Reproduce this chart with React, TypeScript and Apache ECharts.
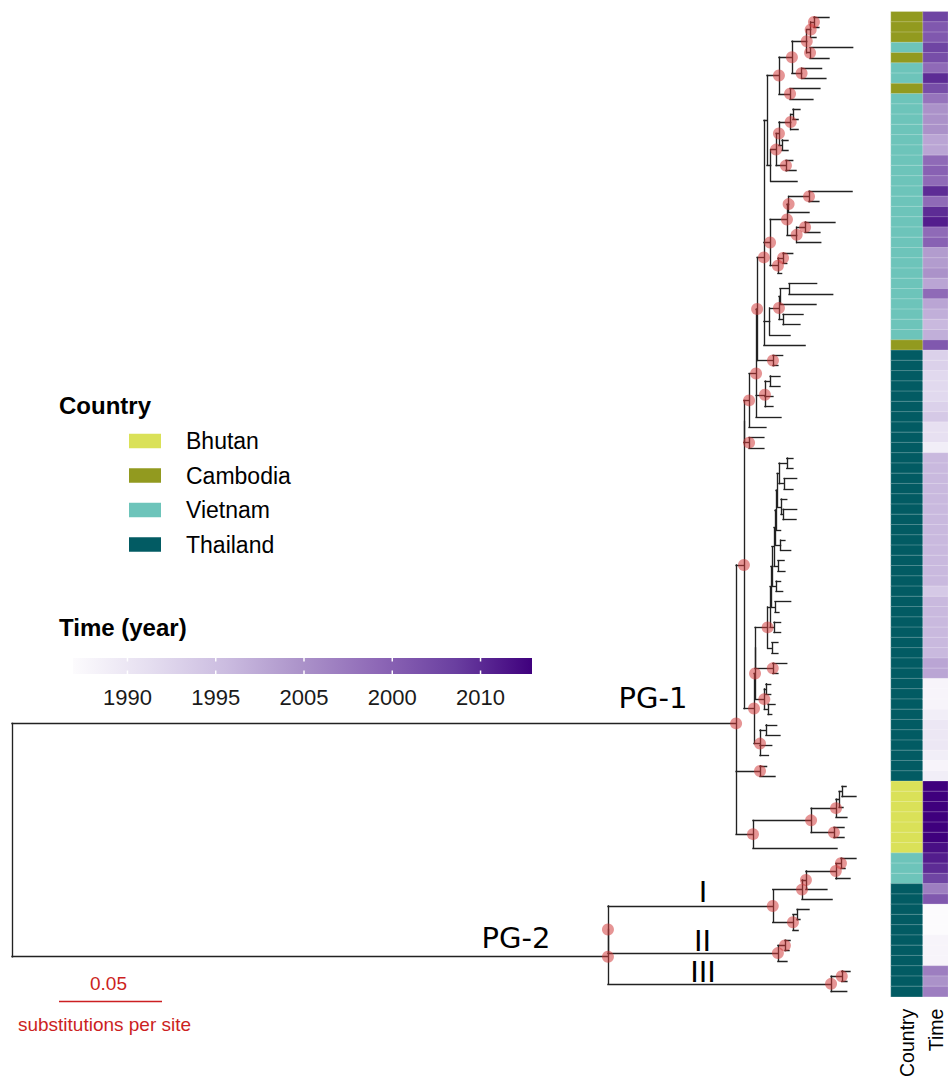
import React, { useEffect, useRef } from "react";
import * as echarts from "echarts";

// ---------------- data ----------------
const COUNTRIES = ["Bhutan", "Cambodia", "Vietnam", "Thailand"];
const COUNTRY_COLORS = ["#dae158", "#929a1f", "#6dc4ba", "#025b63"];

// heatmap rows, top to bottom (same order as tree tips)
const ROW_COUNTRY = [
  "Cambodia", "Cambodia", "Cambodia", "Vietnam", "Cambodia", "Vietnam", "Vietnam", "Cambodia",
  "Vietnam", "Vietnam", "Vietnam", "Vietnam", "Vietnam", "Vietnam", "Vietnam", "Vietnam",
  "Vietnam", "Vietnam", "Vietnam", "Vietnam", "Vietnam", "Vietnam", "Vietnam", "Vietnam",
  "Vietnam", "Vietnam", "Vietnam", "Vietnam", "Vietnam", "Vietnam", "Vietnam", "Vietnam",
  "Cambodia",
  "Thailand", "Thailand", "Thailand", "Thailand", "Thailand", "Thailand", "Thailand", "Thailand",
  "Thailand", "Thailand", "Thailand", "Thailand", "Thailand", "Thailand", "Thailand", "Thailand",
  "Thailand", "Thailand", "Thailand", "Thailand", "Thailand", "Thailand", "Thailand", "Thailand",
  "Thailand", "Thailand", "Thailand", "Thailand", "Thailand", "Thailand", "Thailand", "Thailand",
  "Thailand", "Thailand", "Thailand", "Thailand", "Thailand", "Thailand", "Thailand", "Thailand",
  "Thailand", "Thailand",
  "Bhutan", "Bhutan", "Bhutan", "Bhutan", "Bhutan", "Bhutan", "Bhutan",
  "Vietnam", "Vietnam", "Vietnam",
  "Thailand", "Thailand", "Thailand", "Thailand", "Thailand", "Thailand", "Thailand", "Thailand",
  "Thailand", "Thailand", "Thailand",
];

const ROW_YEAR = [
  2008, 2006, 2006, 2008, 2007, 2004, 2010, 2007,
  2003, 2000, 2000, 2000, 1998, 1998, 2004, 2005,
  2004, 2010, 2004, 2010, 2011, 2004, 2005, 1999,
  1999, 2000, 1998, 2004, 1998, 1997, 1996, 1997,
  2006,
  1993, 1993, 1992, 1992, 1992, 1993, 1994, 1991,
  1991, 1989, 1996, 1996, 1996, 1996, 1996, 1996,
  1996, 1996, 1996, 1996, 1996, 1996, 1996, 1994,
  1996, 1996, 1996, 1996, 1996, 1996, 1998, 1998,
  1988, 1988, 1988, 1989, 1990, 1990, 1990, 1989,
  1988, 1989,
  2013, 2013, 2013, 2013, 2013, 2013, 2012,
  2011, 2010, 2008,
  2002, 2006, 1987, 1987, 1987, 1988, 1988, 1988,
  2002, 2000, 2002,
];

// internal nodes: [name, parent, distance from root (substitutions/site), supported]
const NODES: [string, string | null, number, number][] = [
  ["root", null, 0, 0],
  ["PG1", "root", 0.3515, 1],
  ["PG2", "root", 0.2893, 1],
  ["P2a", "PG2", 0.2893, 1],
  ["I", "P2a", 0.3693, 1],
  ["Iup", "I", 0.3835, 1],
  ["IupA", "Iup", 0.3854, 1],
  ["Iup1", "IupA", 0.3999, 1],
  ["Iup1a", "Iup1", 0.4024, 1],
  ["Idn", "I", 0.3791, 1],
  ["Idn1", "Idn", 0.3811, 0],
  ["II", "P2a", 0.3718, 1],
  ["II1", "II", 0.3752, 1],
  ["III", "PG2", 0.3976, 1],
  ["III1", "III", 0.4028, 1],
  ["S", "PG1", 0.3553, 1],
  ["Q", "PG1", 0.3631, 1],
  ["PGb", "PG1", 0.3597, 1],
  ["B", "PGb", 0.3879, 1],
  ["B1", "B", 0.4, 1],
  ["B1b", "B1", 0.4015, 0],
  ["B1a", "B1b", 0.4029, 0],
  ["B2", "B", 0.399, 1],
  ["S1", "S", 0.3553, 0],
  ["Z", "S1", 0.3578, 1],
  ["Z2", "S1", 0.3578, 1],
  ["V", "Z", 0.3612, 1],
  ["V2", "V", 0.3617, 1],
  ["N3435", "V2", 0.3694, 1],
  ["N3639", "V", 0.3655, 1],
  ["N3637", "N3639", 0.368, 0],
  ["TOP", "V2", 0.365, 1],
  ["T767", "TOP", 0.3665, 0],
  ["N1_9", "T767", 0.3723, 1],
  ["N1_7", "N1_9", 0.3786, 1],
  ["N1_5", "N1_7", 0.3858, 1],
  ["N123", "N1_5", 0.3877, 1],
  ["N12", "N123", 0.3893, 1],
  ["N45", "N1_5", 0.3874, 1],
  ["N67", "N1_7", 0.3833, 1],
  ["N89", "N1_9", 0.3777, 1],
  ["N10_17", "T767", 0.3683, 0],
  ["N10_16", "N10_17", 0.3709, 1],
  ["N10_14", "N10_16", 0.3723, 1],
  ["N10_12", "N10_14", 0.378, 1],
  ["N1011", "N10_12", 0.3791, 0],
  ["N1314", "N10_14", 0.3738, 0],
  ["N1516", "N10_16", 0.3757, 1],
  ["N18_26", "TOP", 0.368, 1],
  ["N18_23", "N18_26", 0.3762, 1],
  ["N18_20", "N18_23", 0.377, 1],
  ["N1819", "N18_20", 0.3869, 1],
  ["N21_23", "N18_23", 0.3809, 1],
  ["N2122", "N21_23", 0.385, 1],
  ["N24_26", "N18_26", 0.3718, 1],
  ["N2425", "N24_26", 0.3743, 1],
  ["N27_32", "TOP", 0.3678, 0],
  ["N27_31", "N27_32", 0.3723, 1],
  ["N27_29", "N27_31", 0.3728, 0],
  ["N2728", "N27_29", 0.3772, 0],
  ["N3031", "N27_31", 0.3743, 0],
  ["Mp", "S", 0.3602, 1],
  ["M", "Mp", 0.3607, 1],
  ["Ma", "M", 0.3607, 0],
  ["L", "Ma", 0.3668, 1],
  ["C8", "L", 0.368, 0],
  ["C7", "C8", 0.3684, 0],
  ["C6", "C7", 0.3689, 0],
  ["C5", "C6", 0.3699, 0],
  ["C4", "C5", 0.3704, 0],
  ["C3", "C4", 0.3709, 0],
  ["C2", "C3", 0.3714, 0],
  ["C1", "C2", 0.3723, 0],
  ["N4445", "C1", 0.3761, 0],
  ["N4647", "C1", 0.3748, 0],
  ["N4850", "C2", 0.3733, 0],
  ["N4950", "N4850", 0.3743, 0],
  ["N5253", "C4", 0.3731, 0],
  ["N5455", "C5", 0.3718, 0],
  ["N5657", "C6", 0.3709, 0],
  ["N5859", "C7", 0.3704, 0],
  ["N6061", "C8", 0.3699, 0],
  ["N6263", "L", 0.3689, 0],
  ["N6465", "Ma", 0.3693, 1],
  ["K", "M", 0.3652, 1],
  ["K1", "K", 0.366, 0],
  ["K2", "K", 0.367, 0],
  ["P", "Mp", 0.3631, 1],
  ["P1", "P", 0.366, 0],
];

// tips in row order: [parent node, distance from root]
const TIPS: [string, number][] = [
  ["N12", 0.3966], ["N12", 0.3917], ["N123", 0.3903], ["N45", 0.4081], ["N45", 0.3966],
  ["N67", 0.393], ["N67", 0.3951], ["N89", 0.3922], ["N89", 0.3888], ["N1011", 0.3825],
  ["N1011", 0.3816], ["N10_12", 0.3816], ["N1314", 0.3767], ["N1314", 0.3767], ["N1516", 0.379],
  ["N1516", 0.3806], ["N10_17", 0.3811], ["N1819", 0.4078], ["N1819", 0.3917], ["N18_20", 0.3869],
  ["N2122", 0.3995], ["N2122", 0.3922], ["N21_23", 0.3926], ["N2425", 0.379], ["N2425", 0.3761],
  ["N24_26", 0.3736], ["N2728", 0.3906], ["N2728", 0.3984], ["N27_29", 0.3903], ["N3031", 0.384],
  ["N3031", 0.3825], ["N27_32", 0.3777], ["TOP", 0.385],
  ["N3435", 0.3741], ["N3435", 0.3718], ["N3637", 0.3728], ["N3637", 0.3728], ["N3639", 0.3694],
  ["N3639", 0.3694], ["V", 0.3733], ["Z", 0.366], ["Z2", 0.365], ["Z2", 0.365],
  ["N4445", 0.3791], ["N4445", 0.3791], ["N4647", 0.3809], ["N4647", 0.3791], ["N4850", 0.3761],
  ["N4950", 0.3809], ["N4950", 0.3806], ["C3", 0.3731], ["N5253", 0.3752], ["N5253", 0.378],
  ["N5455", 0.3748], ["N5455", 0.3752], ["N5657", 0.3731], ["N5657", 0.3741], ["N5859", 0.378],
  ["N5859", 0.3723], ["N6061", 0.3731], ["N6061", 0.3731], ["N6263", 0.3718], ["N6263", 0.3718],
  ["N6465", 0.3761], ["N6465", 0.3718], ["K1", 0.3683], ["K1", 0.3683], ["K2", 0.3704],
  ["K2", 0.3688], ["P1", 0.3712], ["P1", 0.3728], ["P", 0.3688], ["P", 0.3672],
  ["Q", 0.3663], ["Q", 0.3704],
  ["B1a", 0.4049], ["B1a", 0.4097], ["B1b", 0.4034], ["B1", 0.4053], ["B2", 0.4039],
  ["B2", 0.4039], ["PGb", 0.4005],
  ["Iup1a", 0.4097], ["Iup1a", 0.4044], ["Iup1", 0.4068], ["IupA", 0.3956], ["Iup", 0.3981],
  ["Idn1", 0.3869], ["Idn1", 0.3825], ["Idn", 0.3816], ["II1", 0.3777], ["II1", 0.3772],
  ["II", 0.3762], ["III1", 0.4068], ["III1", 0.4053], ["III", 0.4052],
];

const CLADE_LABELS = ["PG-1", "PG-2", "I", "II", "III"];
const TIME_MIN = 1987;
const TIME_MAX = 2013;
const TIME_COLORS = ["#fcfbfd", "#e5def0", "#cbbce0", "#ab92c9", "#8d67b6", "#6a3fa0", "#3f007d"];
const TIME_TICK_YEARS = [1990, 1995, 2000, 2005, 2010];
const TIME_TICK_LABELS = ["1990", "1995", "2005", "2000", "2010"];
const SCALE_BAR = 0.05;

// ---------------- layout ----------------
const FONT = '"Liberation Sans", Arial, sans-serif';
const GRID_TOP = 11.7;
const GRID_H = 985;
const TREE_LEFT = 12;
const TREE_W = 927;
const X_MAX = 0.45;
const RED = "#cc1f22";

export default function App() {
  const ref = useRef<HTMLDivElement>(null);

  useEffect(() => {
    if (!ref.current) return;
    const chart = echarts.init(ref.current, null, { renderer: "svg" });

    // build tree geometry
    const depth: Record<string, number> = {};
    const parentOf: Record<string, string | null> = {};
    const kids: Record<string, string[]> = {};
    const yPos: Record<string, number> = {};
    NODES.forEach(([n, p, d]) => {
      depth[n] = d;
      parentOf[n] = p;
      kids[n] = kids[n] || [];
      if (p) (kids[p] = kids[p] || []).push(n);
    });
    TIPS.forEach(([p, d], i) => {
      const n = "tip" + i;
      depth[n] = d;
      parentOf[n] = p;
      yPos[n] = i + 0.5;
      (kids[p] = kids[p] || []).push(n);
    });
    const getY = (n: string): number => {
      if (yPos[n] !== undefined) return yPos[n];
      const ys = kids[n].map(getY);
      yPos[n] = ys.reduce((a, b) => a + b, 0) / ys.length;
      return yPos[n];
    };
    getY("root");

    const segs: number[][][] = [];
    Object.keys(depth).forEach((n) => {
      const p = parentOf[n];
      if (p) segs.push([[depth[p], yPos[n]], [depth[n], yPos[n]]]);
      const k = kids[n];
      if (k && k.length) {
        const ys = k.map((c) => yPos[c]);
        segs.push([[depth[n], Math.min(...ys)], [depth[n], Math.max(...ys)]]);
      }
    });
    const circles = NODES.filter((n) => n[3] === 1).map((n) => [depth[n[0]], yPos[n[0]]]);

    const rowNames = ROW_COUNTRY.map((_, i) => "r" + (i + 1));

    // legend helpers
    const legendRows = [441, 475.5, 510, 544.5];
    const BAR_X = 73, BAR_Y = 658, BAR_W = 459, BAR_H = 16;
    const tickX = (yr: number) => BAR_X + ((yr - TIME_MIN) / (TIME_MAX - TIME_MIN)) * BAR_W;
    const scaleLen = (SCALE_BAR / X_MAX) * TREE_W;

    const graphic: any[] = [];
    // clade labels
    const cladePos = [
      [653, 698],
      [516, 938],
      [703, 891.5],
      [702.5, 940.5],
      [703, 971.5],
    ];
    CLADE_LABELS.forEach((t, i) => {
      graphic.push({
        type: "text",
        x: cladePos[i][0],
        y: cladePos[i][1],
        style: { text: t, fill: "#000", font: '29px "DejaVu Sans", sans-serif', align: "center", verticalAlign: "middle", lineHeight: 29 },
      });
    });
    // country legend
    graphic.push({
      type: "text", x: 59, y: 405,
      style: { text: "Country", fill: "#000", font: `bold 24px ${FONT}`, align: "left", verticalAlign: "middle" },
    });
    COUNTRIES.forEach((c, i) => {
      graphic.push({
        type: "rect",
        shape: { x: 129, y: legendRows[i] - 7.25, width: 32, height: 14.5 },
        style: { fill: COUNTRY_COLORS[i] },
      });
      graphic.push({
        type: "text", x: 186, y: legendRows[i],
        style: { text: c, fill: "#000", font: `23px ${FONT}`, align: "left", verticalAlign: "middle" },
      });
    });
    // time legend
    graphic.push({
      type: "text", x: 59, y: 627,
      style: { text: "Time (year)", fill: "#000", font: `bold 24px ${FONT}`, align: "left", verticalAlign: "middle" },
    });
    graphic.push({
      type: "rect",
      shape: { x: BAR_X, y: BAR_Y, width: BAR_W, height: BAR_H },
      style: {
        fill: new echarts.graphic.LinearGradient(
          0, 0, 1, 0,
          TIME_COLORS.map((c, i) => ({ offset: i / (TIME_COLORS.length - 1), color: c }))
        ),
      },
    });
    TIME_TICK_YEARS.forEach((yr, i) => {
      const x = tickX(yr) + 1.5;
      graphic.push({ type: "line", shape: { x1: x, y1: BAR_Y, x2: x, y2: BAR_Y + 3.5 }, style: { stroke: "#fff", lineWidth: 1.5 } });
      graphic.push({ type: "line", shape: { x1: x, y1: BAR_Y + BAR_H - 3.5, x2: x, y2: BAR_Y + BAR_H }, style: { stroke: "#fff", lineWidth: 1.5 } });
      graphic.push({
        type: "text", x, y: 697,
        style: { text: TIME_TICK_LABELS[i], fill: "#1a1a1a", font: `22px ${FONT}`, align: "center", verticalAlign: "middle" },
      });
    });
    // scale bar
    graphic.push({
      type: "text", x: 59 + scaleLen / 2 - 2, y: 983.5,
      style: { text: String(SCALE_BAR), fill: RED, font: `19px ${FONT}`, align: "center", verticalAlign: "middle" },
    });
    graphic.push({
      type: "rect",
      shape: { x: 59, y: 1000.8, width: scaleLen, height: 1.4 },
      style: { fill: RED },
    });
    graphic.push({
      type: "text", x: 104.5, y: 1024,
      style: { text: "substitutions per site", fill: RED, font: `19px ${FONT}`, align: "center", verticalAlign: "middle" },
    });

    const catAxisLabel = { rotate: 90, margin: 12, fontSize: 19.5, color: "#000", fontFamily: FONT };

    chart.setOption({
      animation: false,
      grid: [
        { left: TREE_LEFT, top: GRID_TOP, width: TREE_W, height: GRID_H },
        { left: 891, top: GRID_TOP, width: 32, height: GRID_H },
        { left: 923, top: GRID_TOP, width: 25, height: GRID_H },
      ],
      xAxis: [
        { gridIndex: 0, type: "value", min: 0, max: X_MAX, show: false },
        {
          gridIndex: 1, type: "category", data: ["Country"],
          axisLine: { show: false }, axisTick: { show: false }, splitLine: { show: false },
          axisLabel: catAxisLabel,
        },
        {
          gridIndex: 2, type: "category", data: ["Time"],
          axisLine: { show: false }, axisTick: { show: false }, splitLine: { show: false },
          axisLabel: catAxisLabel,
        },
      ],
      yAxis: [
        { gridIndex: 0, type: "value", min: 0, max: ROW_COUNTRY.length, inverse: true, show: false },
        { gridIndex: 1, type: "category", data: rowNames, inverse: true, show: false },
        { gridIndex: 2, type: "category", data: rowNames, inverse: true, show: false },
      ],
      visualMap: [
        {
          type: "piecewise", show: false, seriesIndex: 2, dimension: 2,
          pieces: COUNTRIES.map((c, i) => ({ value: i, label: c, color: COUNTRY_COLORS[i] })),
        },
        {
          type: "continuous", show: false, seriesIndex: 3, dimension: 2,
          min: TIME_MIN, max: TIME_MAX, inRange: { color: TIME_COLORS },
        },
      ],
      series: [
        {
          type: "lines", coordinateSystem: "cartesian2d", xAxisIndex: 0, yAxisIndex: 0,
          data: segs.map((c) => ({ coords: c })),
          lineStyle: { color: "#222", width: 1.35, opacity: 1, cap: "square" },
          silent: true, z: 2,
        },
        {
          type: "scatter", xAxisIndex: 0, yAxisIndex: 0, data: circles,
          symbol: "circle", symbolSize: 12,
          itemStyle: { color: "rgba(208,55,55,0.66)" },
          silent: true, z: 3,
        },
        {
          type: "heatmap", xAxisIndex: 1, yAxisIndex: 1,
          data: ROW_COUNTRY.map((c, i) => [0, i, COUNTRIES.indexOf(c)]),
          itemStyle: { borderColor: "rgba(255,255,255,0.35)", borderWidth: 0.7 },
          silent: true,
        },
        {
          type: "heatmap", xAxisIndex: 2, yAxisIndex: 2,
          data: ROW_YEAR.map((y, i) => [0, i, y]),
          itemStyle: { borderColor: "rgba(255,255,255,0.35)", borderWidth: 0.7 },
          silent: true,
        },
      ],
      graphic,
    });

    return () => chart.dispose();
  }, []);

  return (
    <div
      ref={ref}
      style={{ position: "absolute", left: 0, top: 0, width: 948, height: 1080, background: "#fff" }}
    />
  );
}
